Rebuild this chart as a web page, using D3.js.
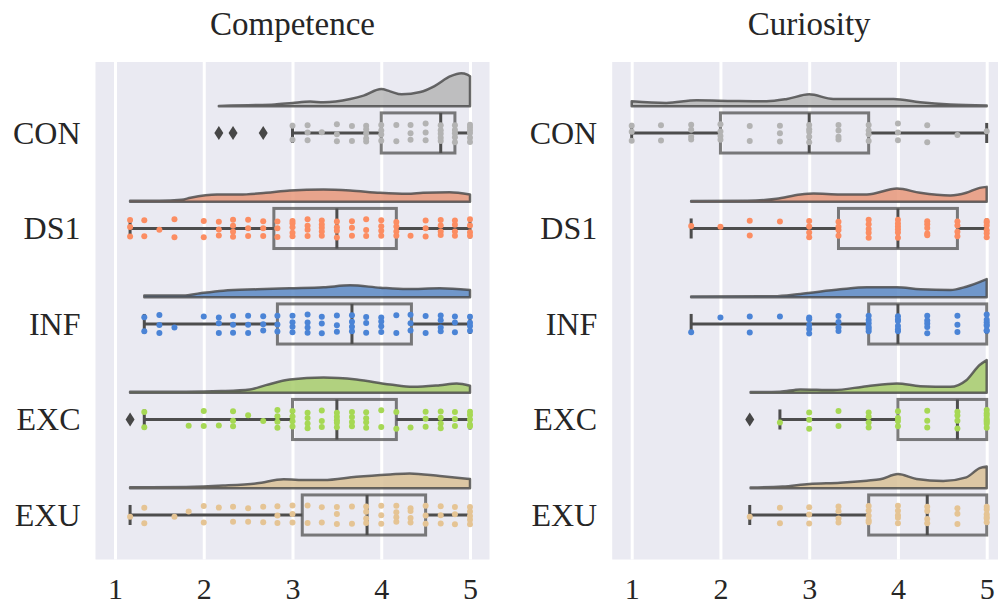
<!DOCTYPE html>
<html>
<head>
<meta charset="utf-8">
<script src="https://cdn.jsdelivr.net/npm/d3@7"></script>
<style>
body { margin:0; background:#fff; }
text { font-family: "Liberation Serif", serif; fill:#262626; }
</style>
</head>
<body>
<div id="chart"></div>
<script>
var groups = ["CON","DS1","INF","EXC","EXU"];
var titles = ["Competence","Curiosity"];
var ticks = [1,2,3,4,5];

// box stats: [lower whisker, q1, median, q3, upper whisker]
var compBox = [[3,4,4.67,4.83,5],[1.17,2.79,3.5,4.17,5],[1.33,2.83,3.67,4.34,5],[1.33,3,3.5,4.17,5],[1.17,3.11,3.84,4.5,5]];
var curBox = [[1,2,3,3.67,5],[1.67,3.33,4,4.67,5],[1.67,3.67,4,5,5],[2.67,4,4.67,5,5],[2.33,3.67,4.33,5,5]];

// fliers
var compOut = [[2.17,2.33,2.67],[],[],[1.17],[]];
var curOut = [[],[],[],[2.33],[]];

// strip points: [value, count]
var compPts = [
  [[3,2],[3.17,3],[3.33,1],[3.5,3],[3.67,2],[3.83,5],[4,4],[4.17,2],[4.33,3],[4.5,3],[4.67,5],[4.83,5],[5,6]],
  [[1.17,3],[1.33,2],[1.5,1],[1.67,2],[2,2],[2.17,3],[2.33,4],[2.5,3],[2.67,3],[2.83,3],[3,5],[3.17,4],[3.33,5],[3.5,4],[3.67,3],[3.83,3],[4,4],[4.17,4],[4.33,1],[4.5,3],[4.67,4],[4.83,4],[5,4]],
  [[1.33,2],[1.5,3],[1.67,1],[2,1],[2.17,3],[2.33,3],[2.5,3],[2.67,3],[2.83,3],[3,4],[3.17,4],[3.33,3],[3.5,3],[3.67,4],[3.83,3],[4,4],[4.17,2],[4.33,3],[4.5,2],[4.67,4],[4.83,3],[5,4]],
  [[1.33,2],[1.83,1],[2,2],[2.17,1],[2.33,3],[2.5,1],[2.67,1],[2.83,4],[3,4],[3.17,4],[3.33,3],[3.5,5],[3.67,4],[3.83,4],[4,2],[4.17,2],[4.33,1],[4.5,3],[4.67,4],[4.83,3],[5,5]],
  [[1.17,1],[1.33,2],[1.67,1],[1.83,1],[2,2],[2.17,1],[2.33,2],[2.5,2],[2.67,2],[2.83,3],[3,3],[3.17,2],[3.33,2],[3.5,3],[3.67,2],[3.83,4],[4,3],[4.17,4],[4.33,4],[4.5,3],[4.67,3],[4.83,3],[5,5]]
];
var curPts = [
  [[1,3],[1.33,2],[1.67,4],[2,4],[2.33,2],[2.67,3],[3,5],[3.33,4],[3.67,4],[4,3],[4.33,2],[4.67,1],[5,1]],
  [[1.67,1],[2,1],[2.33,2],[2.67,1],[3,4],[3.33,4],[3.67,5],[4,6],[4.33,5],[4.67,4],[5,6]],
  [[1.67,1],[2,1],[2.33,2],[2.67,1],[3,5],[3.33,4],[3.67,6],[4,6],[4.33,5],[4.67,3],[5,7]],
  [[2.67,1],[3,3],[3.33,2],[3.67,4],[4,4],[4.33,3],[4.67,4],[5,8]],
  [[2.33,1],[2.67,2],[3,3],[3.33,4],[3.67,5],[4,5],[4.33,4],[4.67,3],[5,6]]
];

// half violin density: [value, relative density]
var compDens = [
  [[2.17,0.01],[2.5,0.03],[2.8,0.05],[3,0.1],[3.2,0.14],[3.35,0.12],[3.65,0.22],[3.8,0.32],[4,0.52],[4.1,0.45],[4.23,0.36],[4.44,0.43],[4.6,0.61],[4.78,0.91],[4.9,1],[4.97,0.96],[5,0.91]],
  [[1.17,0.03],[1.5,0.03],[1.75,0.06],[1.85,0.12],[2.15,0.22],[2.4,0.22],[2.7,0.27],[2.97,0.34],[3.35,0.37],[3.65,0.34],[3.99,0.27],[4.29,0.24],[4.47,0.27],[4.77,0.29],[5,0.22]],
  [[1.33,0.05],[1.77,0.05],[1.96,0.12],[2.22,0.2],[2.6,0.24],[2.97,0.27],[3.35,0.3],[3.65,0.36],[3.99,0.29],[4.29,0.25],[4.66,0.27],[5,0.22]],
  [[1.17,0.03],[1.8,0.03],[2.2,0.05],[2.52,0.1],[2.7,0.23],[2.97,0.4],[3.35,0.46],[3.72,0.4],[4.1,0.25],[4.36,0.18],[4.66,0.23],[4.85,0.28],[5,0.21]],
  [[1.17,0.03],[1.8,0.04],[2.22,0.08],[2.6,0.15],[2.9,0.27],[3.16,0.25],[3.35,0.25],[3.72,0.35],[4.1,0.42],[4.32,0.45],[4.66,0.37],[5,0.28]]
];
var curDens = [
  [[1,0.15],[1.39,0.1],[1.73,0.18],[2.15,0.16],[2.52,0.15],[2.75,0.22],[3,0.36],[3.27,0.22],[3.65,0.22],[3.95,0.22],[4.25,0.12],[4.59,0.05],[5,0.02]],
  [[1.67,0.02],[2.3,0.03],[2.63,0.09],[2.9,0.22],[3.05,0.25],[3.35,0.22],[3.65,0.22],[3.99,0.4],[4.25,0.27],[4.59,0.19],[4.77,0.27],[4.92,0.42],[5,0.45]],
  [[1.67,0.02],[2.6,0.03],[2.9,0.1],[3.35,0.24],[3.65,0.3],[3.99,0.3],[4.25,0.24],[4.59,0.22],[4.77,0.32],[5,0.55]],
  [[2.34,0.02],[2.67,0.03],[2.9,0.1],[3.27,0.08],[3.65,0.2],[3.99,0.28],[4.25,0.2],[4.59,0.18],[4.77,0.38],[4.92,0.84],[5,0.99]],
  [[2.34,0.02],[2.7,0.05],[3,0.13],[3.35,0.17],[3.65,0.23],[3.8,0.27],[4,0.43],[4.21,0.28],[4.51,0.22],[4.77,0.33],[4.92,0.61],[5,0.66]]
];

var dotCol = ["#b3b3b3","#fc8d62","#4b84d6","#a6d854","#e5c494"];
var violinCol = ["#b6b6b6","#e8987a","#5a88c4","#a7cd6b","#d9c197"];

var W = 998, H = 606;
var plotTop = 62, plotBottom = 559.5;

var svg = d3.select("#chart")
  .append("svg")
  .attr("width", W)
  .attr("height", H);

var y = d3.scaleLinear().domain([-0.743, 4.466]).range([plotTop, plotBottom]);
var band = y(1) - y(0);
var hScale = d3.scaleLinear().domain([0,1]).range([0, 33]);

// deterministic jitter for strip dots
function jitter(i, k, n) {
  var h = Math.sin((i+1)*12.9898 + (k+1)*78.233) * 43758.5453;
  h = h - Math.floor(h);
  if (n == 1) return (h - 0.5) * 18;
  return -8 + 16*k/(n-1) + (h - 0.5) * 3;
}

function panel(x0, x1, title, box, out, pts, dens) {
  var x = d3.scaleLinear().domain([1,5]).range([x0, x1]);
  var left = x0 - 19.5, right = x1 + 19.5;
  var g = svg.append("g");

  g.append("rect")
    .attr("x", left).attr("y", plotTop)
    .attr("width", right - left).attr("height", plotBottom - plotTop)
    .attr("fill", "#eaeaf2");

  var ax = g.append("g")
    .attr("transform", "translate(0," + plotBottom + ")")
    .call(d3.axisBottom(x).tickValues(ticks).tickFormat(d3.format("d"))
      .tickSize(-(plotBottom - plotTop)).tickPadding(18));
  ax.select(".domain").remove();
  ax.selectAll("line").attr("stroke", "#fff").attr("stroke-width", 3);
  ax.selectAll("text").attr("font-size", "30px").attr("fill", "#262626")
    .style("font-family", "Liberation Serif");

  var ay = g.append("g")
    .attr("transform", "translate(" + left + ",0)")
    .call(d3.axisLeft(y).tickValues(d3.range(groups.length))
      .tickFormat(function(i) { return groups[i]; })
      .tickSize(0).tickPadding(15));
  ay.select(".domain").remove();
  ay.selectAll("text").attr("font-size", "32px").attr("fill", "#262626")
    .style("font-family", "Liberation Serif");

  g.append("text")
    .attr("x", (left + right) / 2)
    .attr("y", 35)
    .attr("text-anchor", "middle")
    .attr("font-size", "33px")
    .text(title);

  for (var i=0; i<groups.length; i++) {
    var yc = y(i);
    var base = y(i - 0.28);

    // cloud
    var area = d3.area()
      .x(function(d) { return x(d[0]); })
      .y0(base)
      .y1(function(d) { return base - hScale(d[1]); })
      .curve(d3.curveMonotoneX);
    g.append("path")
      .datum(dens[i])
      .attr("d", area)
      .attr("fill", violinCol[i])
      .attr("fill-opacity", 0.85)
      .attr("stroke", "rgba(70,70,70,0.8)")
      .attr("stroke-width", 2.5)
      .attr("stroke-linejoin", "round");

    // box
    var b = box[i];
    var bh = band * 0.21;
    var wg = g.append("g").attr("stroke", "#4d4d4d").attr("stroke-width", 3);
    wg.append("line").attr("x1", x(b[0])).attr("x2", x(b[1])).attr("y1", yc).attr("y2", yc);
    wg.append("line").attr("x1", x(b[3])).attr("x2", x(b[4])).attr("y1", yc).attr("y2", yc);
    wg.append("line").attr("x1", x(b[0])).attr("x2", x(b[0])).attr("y1", yc - bh/2).attr("y2", yc + bh/2);
    wg.append("line").attr("x1", x(b[4])).attr("x2", x(b[4])).attr("y1", yc - bh/2).attr("y2", yc + bh/2);
    g.append("rect")
      .attr("x", x(b[1])).attr("y", yc - bh)
      .attr("width", x(b[3]) - x(b[1])).attr("height", 2*bh)
      .attr("fill", "none")
      .attr("stroke", "rgba(80,80,80,0.75)")
      .attr("stroke-width", 3);
    wg.append("line").attr("x1", x(b[2])).attr("x2", x(b[2])).attr("y1", yc - bh).attr("y2", yc + bh);

    // rain
    var dots = [];
    pts[i].forEach(function(p, j) {
      for (var k=0; k<p[1]; k++) dots.push({v: p[0], dy: jitter(j + i*31, k, p[1])});
    });
    g.selectAll(null)
      .data(dots)
      .enter().append("circle")
      .attr("cx", function(d) { return x(d.v); })
      .attr("cy", function(d) { return yc + d.dy; })
      .attr("r", 3)
      .attr("fill", dotCol[i]);

    // fliers
    g.selectAll(null)
      .data(out[i])
      .enter().append("path")
      .attr("d", "M0,-7L4.5,0L0,7L-4.5,0Z")
      .attr("transform", function(d) { return "translate(" + x(d) + "," + yc + ")"; })
      .attr("fill", "#474747");
  }
}

panel(115, 470, titles[0], compBox, compOut, compPts, compDens);
panel(631.7, 986.7, titles[1], curBox, curOut, curPts, curDens);
</script>
</body>
</html>
